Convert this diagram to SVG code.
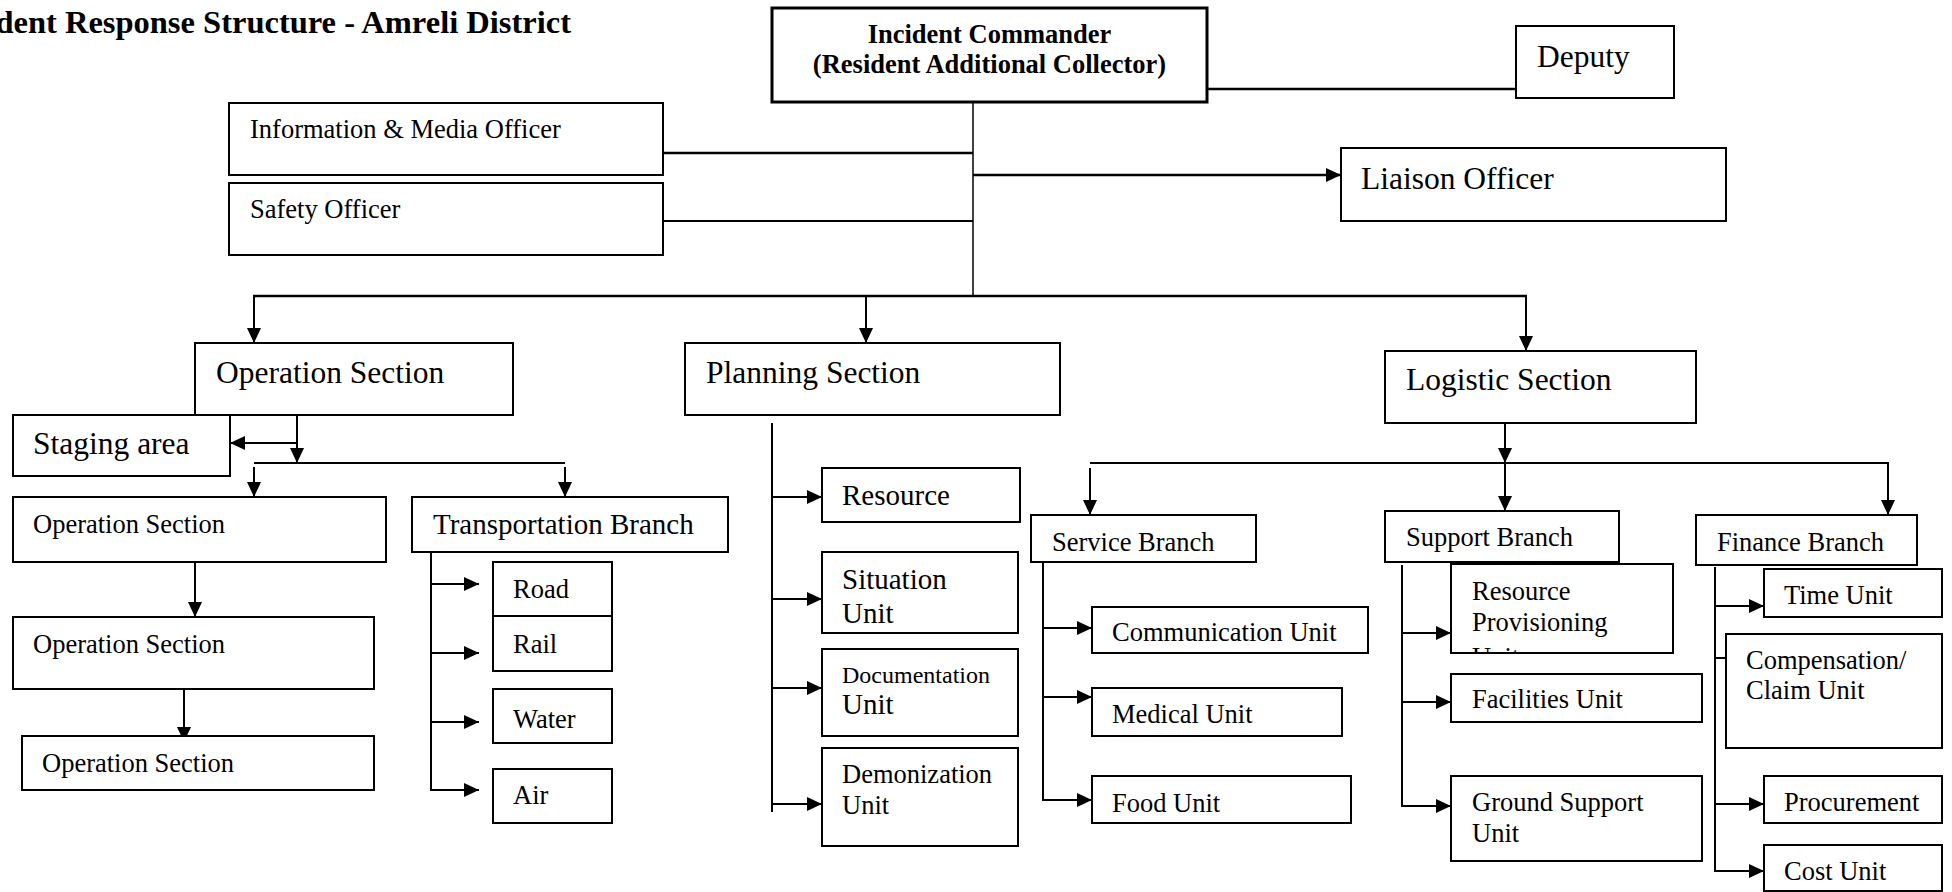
<svg xmlns="http://www.w3.org/2000/svg" width="1952" height="892" viewBox="0 0 1952 892">
<style>
.box{fill:#fff;stroke:#000;stroke-width:2}
.bx3{fill:#fff;stroke:#000;stroke-width:3}
text{font-family:"Liberation Serif","Times New Roman",serif;fill:#000}
.s{font-size:26.5px}
.m{font-size:29px}
.l{font-size:31.5px}
.d{font-size:24px}
.b{font-weight:bold;font-size:26.5px}
.c line,.c path{stroke:#000;stroke-width:2;fill:none}
.c .a{marker-end:url(#ah)}
.c .th{stroke-width:2.5}
.c .tn{stroke-width:1.5}
</style>
<defs>
<marker id="ah" markerUnits="userSpaceOnUse" markerWidth="15" markerHeight="14" refX="15" refY="7" orient="auto">
<path d="M0,0 L15,7 L0,14 z" fill="#000"/>
</marker>
<clipPath id="rpclip"><rect x="1452" y="565" width="220" height="87"/></clipPath>
</defs>
<rect width="1952" height="892" fill="#fff"/>
<text x="571" y="33" text-anchor="end" style="font-weight:bold;font-size:32.5px">Incident Response Structure - Amreli District</text>

<g id="connectors" class="c">
<line class="th" x1="1207" y1="89" x2="1516" y2="89"/>
<line class="tn" x1="973" y1="102" x2="973" y2="296"/>
<line class="th" x1="663" y1="153" x2="973" y2="153"/>
<line x1="663" y1="221" x2="973" y2="221"/>
<line class="a th" x1="973" y1="175" x2="1341" y2="175"/>
<line class="th" x1="253" y1="296" x2="1527" y2="296"/>
<line class="a" x1="254" y1="296" x2="254" y2="343"/>
<line class="a" x1="866" y1="296" x2="866" y2="343"/>
<line class="a" x1="1526" y1="296" x2="1526" y2="351"/>
<line class="a" x1="297" y1="415" x2="297" y2="463"/>
<line class="a" x1="297" y1="443" x2="230" y2="443"/>
<line x1="254" y1="463" x2="565" y2="463"/>
<line class="a" x1="254" y1="467" x2="254" y2="497"/>
<line class="a" x1="565" y1="467" x2="565" y2="497"/>
<line class="a" x1="195" y1="562" x2="195" y2="617"/>
<line class="a" x1="184" y1="689" x2="184" y2="742"/>
<line x1="431" y1="552" x2="431" y2="791"/>
<line class="a" x1="430" y1="584" x2="479" y2="584"/>
<line class="a" x1="430" y1="653" x2="479" y2="653"/>
<line class="a" x1="430" y1="722" x2="479" y2="722"/>
<line class="a" x1="430" y1="790" x2="479" y2="790"/>
<line x1="772" y1="423" x2="772" y2="812"/>
<line class="a" x1="771" y1="497" x2="822" y2="497"/>
<line class="a" x1="771" y1="599" x2="822" y2="599"/>
<line class="a" x1="771" y1="688" x2="822" y2="688"/>
<line class="a" x1="771" y1="804" x2="822" y2="804"/>
<line class="a" x1="1505" y1="423" x2="1505" y2="463"/>
<line x1="1090" y1="463" x2="1889" y2="463"/>
<line class="a" x1="1090" y1="468" x2="1090" y2="515"/>
<line class="a" x1="1505" y1="463" x2="1505" y2="511"/>
<line class="a" x1="1888" y1="463" x2="1888" y2="515"/>
<line x1="1043" y1="562" x2="1043" y2="801"/>
<line class="a" x1="1042" y1="628" x2="1092" y2="628"/>
<line class="a" x1="1042" y1="697" x2="1092" y2="697"/>
<line class="a" x1="1042" y1="800" x2="1092" y2="800"/>
<line x1="1402" y1="565" x2="1402" y2="807"/>
<line class="a" x1="1401" y1="633" x2="1451" y2="633"/>
<line class="a" x1="1401" y1="702" x2="1451" y2="702"/>
<line class="a" x1="1401" y1="806" x2="1451" y2="806"/>
<line x1="1715" y1="567" x2="1715" y2="872"/>
<line class="a" x1="1714" y1="606" x2="1764" y2="606"/>
<line x1="1714" y1="658" x2="1726" y2="658"/>
<line class="a" x1="1714" y1="804" x2="1764" y2="804"/>
<line class="a" x1="1714" y1="871" x2="1764" y2="871"/>
</g>

<g id="incident-commander"><rect class="bx3" x="772" y="8" width="435" height="94"/>
<text class="b" x="989.5" y="43" text-anchor="middle">Incident Commander</text>
<text class="b" x="989.5" y="73" text-anchor="middle">(Resident Additional Collector)</text></g>
<g id="deputy"><rect class="box" x="1516" y="26" width="158" height="72"/><text class="l" x="1537" y="67">Deputy</text></g>
<g id="info-media"><rect class="box" x="229" y="103" width="434" height="72"/><text class="s" x="250" y="138">Information &amp; Media Officer</text></g>
<g id="safety"><rect class="box" x="229" y="183" width="434" height="72"/><text class="s" x="250" y="218">Safety Officer</text></g>
<g id="liaison"><rect class="box" x="1341" y="148" width="385" height="73"/><text class="l" x="1361" y="189">Liaison Officer</text></g>

<g id="operation-section"><rect class="box" x="195" y="343" width="318" height="72"/><text class="l" x="216" y="383">Operation Section</text></g>
<g id="staging-area"><rect class="box" x="13" y="415" width="217" height="61"/><text class="l" x="33" y="454">Staging area</text></g>
<g id="operation-section-2"><rect class="box" x="13" y="497" width="373" height="65"/><text class="s" x="33" y="533">Operation Section</text></g>
<g id="operation-section-3"><rect class="box" x="13" y="617" width="361" height="72"/><text class="s" x="33" y="653">Operation Section</text></g>
<g id="operation-section-4"><rect class="box" x="22" y="736" width="352" height="54"/><text class="s" x="42" y="772">Operation Section</text></g>
<g id="transportation"><rect class="box" x="412" y="497" width="316" height="55"/><text class="m" x="433" y="534">Transportation Branch</text></g>
<g id="road"><rect class="box" x="493" y="562" width="119" height="54"/><text class="s" x="513" y="598">Road</text></g>
<g id="rail"><rect class="box" x="493" y="616" width="119" height="55"/><text class="s" x="513" y="653">Rail</text></g>
<g id="water"><rect class="box" x="493" y="689" width="119" height="54"/><text class="s" x="513" y="728">Water</text></g>
<g id="air"><rect class="box" x="493" y="769" width="119" height="54"/><text class="s" x="513" y="804">Air</text></g>

<g id="planning-section"><rect class="box" x="685" y="343" width="375" height="72"/><text class="l" x="706" y="383">Planning Section</text></g>
<g id="resource"><rect class="box" x="822" y="468" width="198" height="54"/><text class="m" x="842" y="505">Resource</text></g>
<g id="situation"><rect class="box" x="822" y="552" width="196" height="81"/><text class="m" x="842" y="589">Situation</text><text class="m" x="842" y="623">Unit</text></g>
<g id="documentation"><rect class="box" x="822" y="649" width="196" height="87"/><text class="d" x="842" y="683">Documentation</text><text class="m" x="842" y="714">Unit</text></g>
<g id="demonization"><rect class="box" x="822" y="748" width="196" height="98"/><text class="s" x="842" y="783">Demonization</text><text class="s" x="842" y="814">Unit</text></g>

<g id="logistic-section"><rect class="box" x="1385" y="351" width="311" height="72"/><text class="l" x="1406" y="390">Logistic Section</text></g>
<g id="service-branch"><rect class="box" x="1031" y="515" width="225" height="47"/><text class="s" x="1052" y="551">Service Branch</text></g>
<g id="communication"><rect class="box" x="1092" y="607" width="276" height="46"/><text class="s" x="1112" y="641">Communication Unit</text></g>
<g id="medical"><rect class="box" x="1092" y="688" width="250" height="48"/><text class="s" x="1112" y="723">Medical Unit</text></g>
<g id="food"><rect class="box" x="1092" y="776" width="259" height="47"/><text class="s" x="1112" y="812">Food Unit</text></g>

<g id="support-branch"><rect class="box" x="1385" y="511" width="234" height="51"/><text class="s" x="1406" y="546">Support Branch</text></g>
<g id="resource-provisioning"><rect class="box" x="1451" y="564" width="222" height="89"/>
<g clip-path="url(#rpclip)"><text class="s" x="1472" y="600">Resource</text><text class="s" x="1472" y="631">Provisioning</text><text class="s" x="1472" y="666">Unit</text></g></g>
<g id="facilities"><rect class="box" x="1451" y="674" width="251" height="48"/><text class="s" x="1472" y="708">Facilities Unit</text></g>
<g id="ground-support"><rect class="box" x="1451" y="776" width="251" height="85"/><text class="s" x="1472" y="811">Ground Support</text><text class="s" x="1472" y="842">Unit</text></g>

<g id="finance-branch"><rect class="box" x="1696" y="515" width="221" height="50"/><text class="s" x="1717" y="551">Finance Branch</text></g>
<g id="time-unit"><rect class="box" x="1764" y="569" width="178" height="48"/><text class="s" x="1784" y="604">Time Unit</text></g>
<g id="compensation"><rect class="box" x="1726" y="634" width="216" height="114"/><text class="s" x="1746" y="669">Compensation/</text><text class="s" x="1746" y="699">Claim Unit</text></g>
<g id="procurement"><rect class="box" x="1764" y="776" width="178" height="47"/><text class="s" x="1784" y="811">Procurement</text></g>
<g id="cost-unit"><rect class="box" x="1764" y="845" width="178" height="46"/><text class="s" x="1784" y="880">Cost Unit</text></g>
</svg>
